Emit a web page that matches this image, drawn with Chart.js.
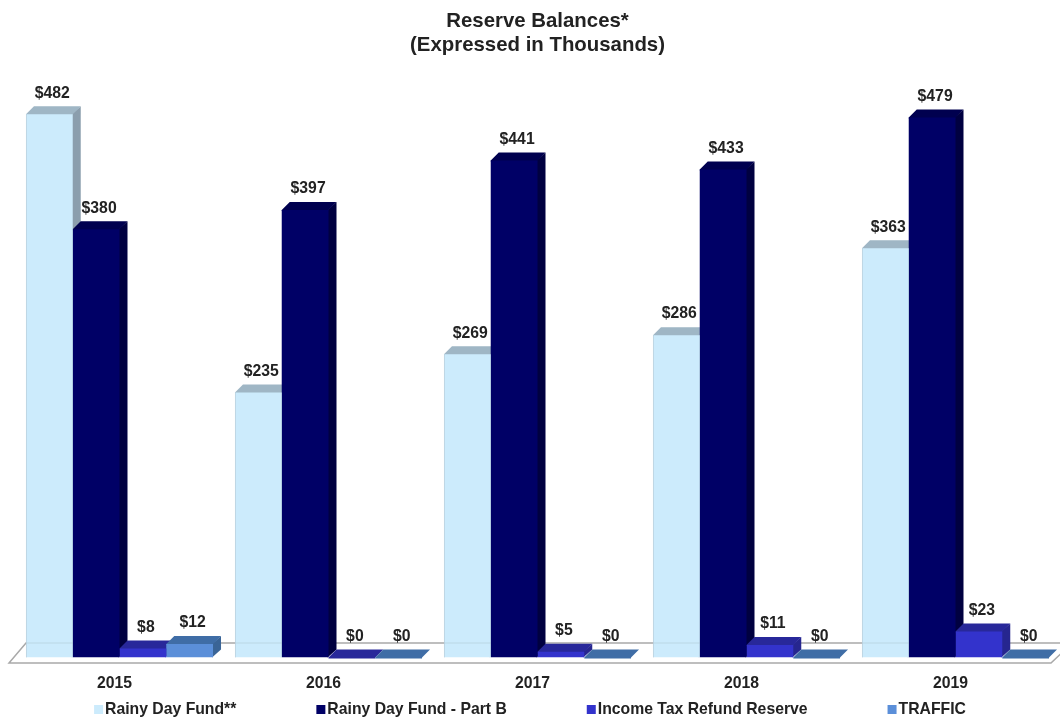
<!DOCTYPE html>
<html>
<head>
<meta charset="utf-8">
<title>Reserve Balances</title>
<script src="https://cdn.jsdelivr.net/npm/chart.js@4/dist/chart.umd.min.js"></script>
<style>
  html, body { margin: 0; padding: 0; background: #fff; overflow: hidden; }
  #wrap { width: 1060px; height: 717px; }
</style>
</head>
<body>
<div id="wrap"><canvas id="reserves" width="1060" height="717"></canvas></div>
<script>
var years = ['2015', '2016', '2017', '2018', '2019'];
var rainyDay = [482, 235, 269, 286, 363];
var rainyDayB = [380, 397, 441, 433, 479];
var incomeTax = [8, 0, 5, 11, 23];
var traffic = [12, 0, 0, 0, 0];

var DEPTH = 8;
var FAMILY = '"Liberation Sans", Arial, sans-serif';
var FONT = 'bold 15.75px ' + FAMILY;
var TEXT = '#222222';

// front, top and side colours of each series
var shades = [
  { front: '#CCEBFC', top: '#9FB6C5', side: '#8B9EAD' },
  { front: '#000066', top: '#00004F', side: '#000040' },
  { front: '#3333CC', top: '#28289A', side: '#26268F' },
  { front: '#5B8FD9', top: '#3F6DA6', side: '#3A6496' }
];

function poly(ctx, pts, fill) {
  ctx.beginPath();
  ctx.moveTo(pts[0][0], pts[0][1]);
  for (var i = 1; i < pts.length; i++) ctx.lineTo(pts[i][0], pts[i][1]);
  ctx.closePath();
  ctx.fillStyle = fill;
  ctx.fill();
}

// fake 3d: floor plus the side and top of every bar, the library paints the fronts over them
var faces = {
  id: 'faces',
  beforeDatasetsDraw: function(chart) {
    var ctx = chart.ctx, a = chart.chartArea;
    ctx.save();
    ctx.strokeStyle = '#A9A9A9';
    ctx.lineWidth = 1.5;
    ctx.beginPath();
    ctx.moveTo(a.right + 12, a.bottom - 14.5);
    ctx.lineTo(a.left + 11, a.bottom - 14.5);
    ctx.lineTo(a.left - 6, a.bottom + 5.5);
    ctx.lineTo(a.right - 9, a.bottom + 5.5);
    ctx.lineTo(a.right + 12, a.bottom - 14.5);
    ctx.stroke();

    chart.data.datasets.forEach(function(ds, d) {
      chart.getDatasetMeta(d).data.forEach(function(bar) {
        var p = bar.getProps(['x', 'y', 'base', 'width'], true);
        var l = p.x - p.width / 2, r = p.x + p.width / 2;
        // faces start 1px under the front so no seam shows
        poly(ctx, [[r - 1, p.y], [r + DEPTH, p.y - DEPTH], [r + DEPTH, p.base - DEPTH], [r - 1, p.base]], shades[d].side);
        poly(ctx, [[l, p.y + 1], [l, p.y], [l + DEPTH, p.y - DEPTH], [r + DEPTH, p.y - DEPTH], [r, p.y], [r, p.y + 1]], shades[d].top);
      });
    });
    ctx.restore();
  },
  afterDatasetsDraw: function(chart) {
    var ctx = chart.ctx, a = chart.chartArea;
    ctx.save();
    // back floor line shows faintly through the pale bars, and they have a thin left edge
    ctx.lineWidth = 1;
    chart.getDatasetMeta(0).data.forEach(function(bar) {
      var l = bar.x - bar.width / 2, r = bar.x + bar.width / 2;
      ctx.strokeStyle = 'rgba(150,165,175,0.3)';
      ctx.beginPath();
      ctx.moveTo(l, a.bottom - 14.5);
      ctx.lineTo(r, a.bottom - 14.5);
      ctx.stroke();
      ctx.strokeStyle = 'rgba(170,185,195,0.4)';
      ctx.beginPath();
      ctx.moveTo(l + 0.5, bar.y);
      ctx.lineTo(l + 0.5, bar.base);
      ctx.stroke();
    });

    ctx.font = FONT;
    ctx.fillStyle = TEXT;
    ctx.textAlign = 'center';
    ctx.textBaseline = 'middle';
    chart.data.datasets.forEach(function(ds, d) {
      chart.getDatasetMeta(d).data.forEach(function(bar, i) {
        ctx.fillText('$' + ds.data[i], bar.x + 3, bar.y - 21);
      });
    });
    ctx.restore();
  },
  afterDraw: function(chart) {
    // legend by hand, the built in one ties its vertical size to the item gap
    var ctx = chart.ctx, gap = 80, box = 9, textGap = 2;
    ctx.save();
    ctx.font = FONT;
    ctx.textBaseline = 'middle';
    var total = 0;
    chart.data.datasets.forEach(function(ds, d) {
      total += box + textGap + ctx.measureText(ds.label).width + (d ? gap : 0);
    });
    var x = (chart.width - total) / 2, y = 709.5;
    chart.data.datasets.forEach(function(ds, d) {
      ctx.fillStyle = shades[d].front;
      ctx.fillRect(x, y - box / 2, box, box);
      ctx.fillStyle = TEXT;
      ctx.fillText(ds.label, x + box + textGap, y);
      x += box + textGap + ctx.measureText(ds.label).width + gap;
    });
    ctx.restore();
  }
};

function series(label, values, d) {
  return { label: label, data: values, backgroundColor: shades[d].front, borderWidth: 0 };
}

new Chart(document.getElementById('reserves').getContext('2d'), {
  type: 'bar',
  data: {
    labels: years,
    datasets: [
      series('Rainy Day Fund**', rainyDay, 0),
      series('Rainy Day Fund - Part B', rainyDayB, 1),
      series('Income Tax Refund Reserve', incomeTax, 2),
      series('TRAFFIC', traffic, 3)
    ]
  },
  plugins: [faces],
  options: {
    responsive: false,
    animation: false,
    categoryPercentage: 0.895,
    barPercentage: 1,
    layout: { padding: { left: 15, right: 0, top: 10, bottom: 0 } },
    plugins: {
      legend: { display: false },
      tooltip: { enabled: false },
      title: {
        display: true,
        text: ['Reserve Balances*', '(Expressed in Thousands)'],
        color: TEXT,
        font: { family: FAMILY, size: 20.4, weight: 'bold', lineHeight: 1.15 },
        padding: { top: 0, bottom: 37 }
      }
    },
    scales: {
      x: {
        grid: { display: false },
        border: { display: false },
        afterFit: function(scale) { scale.height = 59.5; },
        ticks: {
          color: TEXT,
          labelOffset: -5,
          padding: 9,
          maxRotation: 0,
          font: { family: FAMILY, size: 15.75, weight: 'bold' }
        }
      },
      y: { display: false, min: 0, max: 500 }
    }
  }
});
</script>
</body>
</html>
